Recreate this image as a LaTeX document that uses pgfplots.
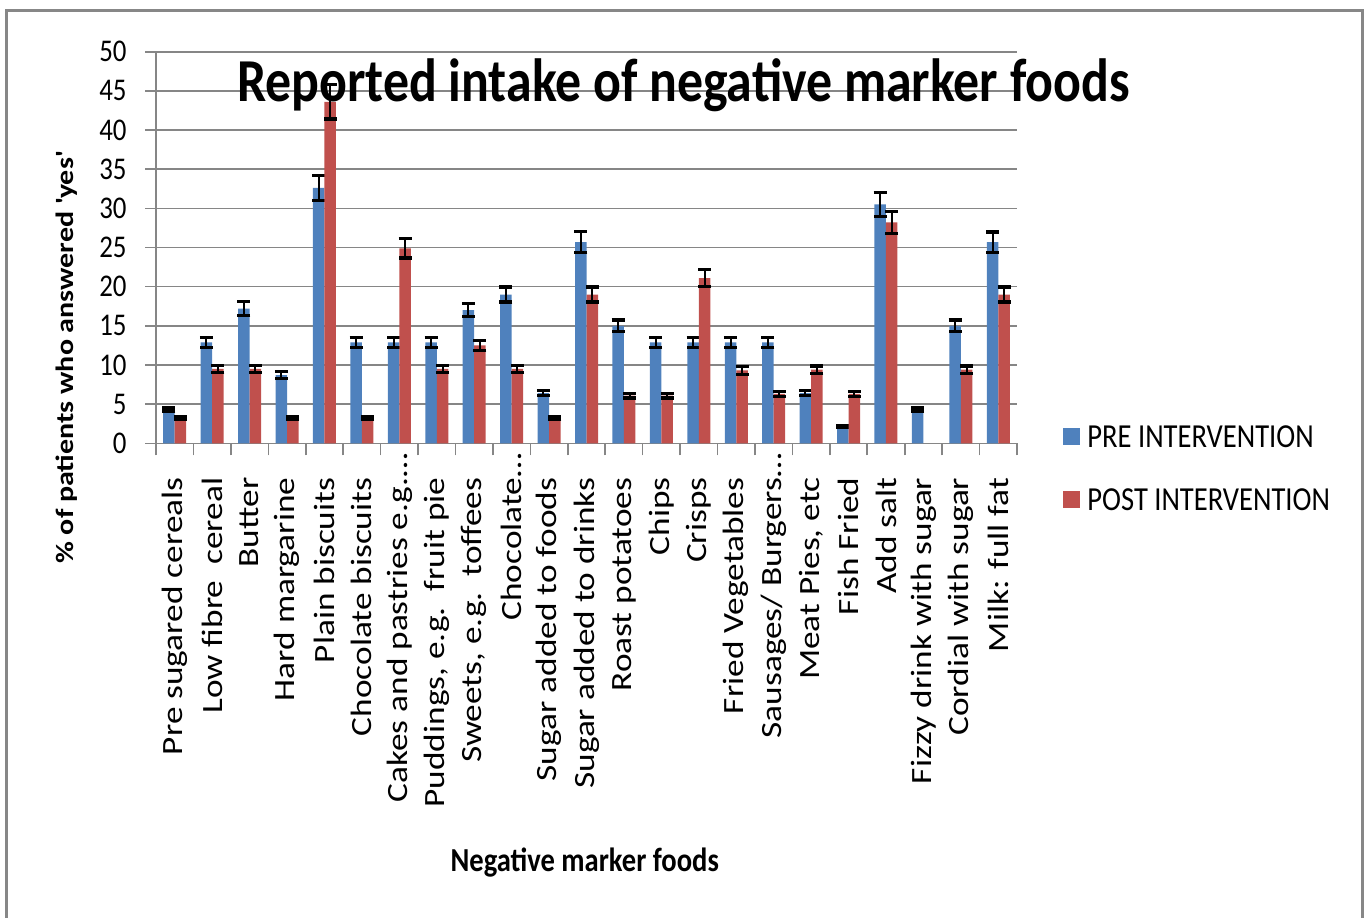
\documentclass[border=0pt]{standalone}
\usepackage{pgfplots}
\pgfplotsset{compat=1.18}
\usepackage{pgfplotstable}
\usepackage{fontspec}
\setmainfont{Carlito}
\newfontfamily\hfont{Carlito}[FakeStretch=0.85]
\newfontfamily\vfont{Carlito}[FakeStretch=1.2]
\definecolor{preblue}{RGB}{79,129,189}
\definecolor{postred}{RGB}{192,80,77}
\definecolor{gridgray}{RGB}{134,134,134}
\definecolor{framegray}{RGB}{135,135,135}
\newcommand{\yt}[1]{#1\kern9pt\hbox{}}

\pgfplotstableread{
x pre pe post poe
0 4.3 0.22 3.2 0.16
1 12.9 0.65 9.5 0.48
2 17.2 0.86 9.5 0.48
3 8.7 0.44 3.2 0.16
4 32.6 1.6 43.6 2.2
5 12.9 0.65 3.2 0.16
6 12.9 0.65 24.9 1.25
7 12.9 0.65 9.5 0.48
8 17.0 0.85 12.5 0.63
9 19.0 0.95 9.5 0.48
10 6.4 0.32 3.2 0.16
11 25.7 1.3 19.0 0.95
12 15.0 0.75 6.1 0.31
13 12.9 0.65 6.1 0.31
14 12.9 0.65 21.1 1.06
15 12.9 0.65 9.3 0.47
16 12.9 0.65 6.3 0.32
17 6.4 0.32 9.4 0.48
18 2.2 0.11 6.3 0.32
19 30.5 1.53 28.2 1.42
20 4.3 0.22 nan nan
21 15.0 0.75 9.4 0.48
22 25.7 1.29 19.0 0.95
}\data

\begin{document}
\begin{tikzpicture}
\useasboundingbox (0,0) rectangle (684pt,458.5pt);
\draw[line width=1.5pt, framegray] (3.25pt,-2pt) -- (3.25pt,453pt) -- (681pt,453pt) -- (681pt,-2pt);
\begin{axis}[
  at={(78pt,236.85pt)}, anchor=south west,
  scale only axis, width=430.5pt, height=195.8pt,
  xmin=-0.5, xmax=22.5, ymin=0, ymax=50,
  axis lines=left, axis line style={-, draw=gridgray, line width=0.8pt},
  ybar=0pt, bar width=5.75pt,
  ytick={0,5,...,50}, ymajorgrids, grid style={gridgray, line width=0.8pt},
  xtick={0,...,22},
  minor xtick={-0.5,0.5,...,22.5},
  tick align=outside, major tick length=5.5pt, minor tick length=6pt,
  tick style={gridgray, line width=0.8pt},
  major x tick style={draw=none},
  /pgf/number format/assume math mode=true,
  yticklabels={\yt{0},\yt{5},\yt{10},\yt{15},\yt{20},\yt{25},\yt{30},\yt{35},\yt{40},\yt{45},\yt{50}},
  yticklabel style={font=\hfont\fontsize{15.8}{18}\selectfont, inner sep=0pt, anchor=east},
  xticklabel style={rotate=90, anchor=east, font=\vfont\fontsize{14.7}{17}\selectfont, inner sep=0pt},
  xticklabel shift=11.5pt,
  xticklabels={Pre sugared cereals, Low fibre\ \ cereal, Butter, Hard margarine, Plain biscuits, Chocolate biscuits, {Cakes and pastries e.g.\rlap{…}}, {Puddings, e.g.\ \ fruit pie}, {Sweets, e.g.\ \ toffees}, {Chocolate\rlap{…}}, Sugar added to foods, Sugar added to drinks, Roast potatoes, Chips, Crisps, Fried Vegetables, {Sausages/ Burgers\rlap{…}}, {Meat Pies, etc}, Fish Fried, Add salt, Fizzy drink with sugar, Cordial with sugar, Milk: full fat},
  title={Reported intake of negative marker foods},
  title style={font=\hfont\bfseries\fontsize{30.5}{36}\selectfont, at={(axis description cs:0.6127,0.842)}, anchor=base, inner sep=0pt},
  xlabel={Negative marker foods},
  xlabel style={font=\hfont\bfseries\fontsize{16.8}{20}\selectfont, at={(axis description cs:0.498,-1.094)}, anchor=base, inner sep=0pt},
  ylabel={\% of patients who answered \textquotesingle yes\textquotesingle},
  ylabel style={font=\vfont\bfseries\fontsize{12.5}{15}\selectfont, at={(axis description cs:-0.1034,0.218)}, anchor=center, inner sep=0pt},
  legend style={draw=none, fill=none, at={(axis description cs:1.0534,0.0455)}, anchor=north west,
    font=\hfont\fontsize{16.8}{20}\selectfont, row sep=20.7pt, column sep=3.5pt, inner sep=0pt,
    nodes={inner sep=0pt, text depth=0pt}},
  legend cell align=left,
  legend image code/.code={\fill[#1] (0pt,-4.25pt) rectangle (8.5pt,4.25pt);},
  error bars/error bar style={black, line width=1pt},
  error bars/error mark options={black, line width=1.6pt, mark size=3.25pt, rotate=90},
]
\addplot[fill=preblue, draw=none, error bars/.cd, y dir=both, y explicit] table[x=x, y=pre, y error=pe] {\data};
\addplot[fill=postred, draw=none, error bars/.cd, y dir=both, y explicit] table[x=x, y=post, y error=poe] {\data};
\legend{PRE INTERVENTION, POST INTERVENTION}
\end{axis}
\end{tikzpicture}
\end{document}
